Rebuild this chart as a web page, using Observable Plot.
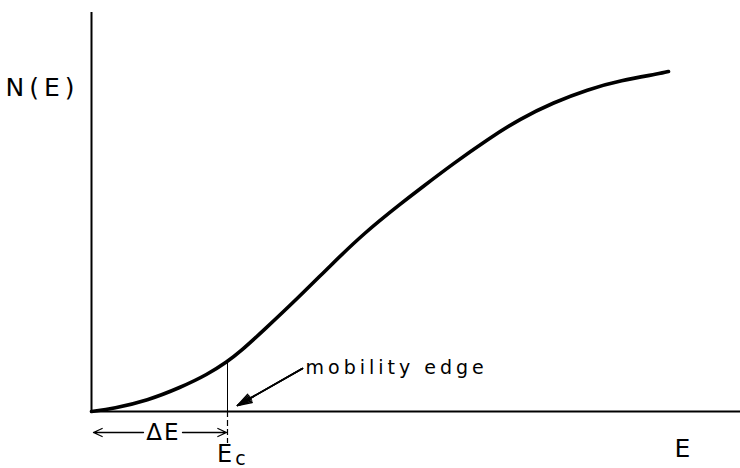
<!DOCTYPE html>
<html>
<head>
<meta charset="utf-8">
<script src="https://cdn.jsdelivr.net/npm/d3@7"></script>
<script src="https://cdn.jsdelivr.net/npm/@observablehq/plot@0.6"></script>
<style>
  html, body { margin: 0; padding: 0; background: #fff; }
  #chart svg { display: block; }
  .spaced-wide text { letter-spacing: 5px; }
  .spaced-mid text { letter-spacing: 4px; }
  .spaced-small text { letter-spacing: 2px; }
</style>
</head>
<body>
<div id="chart"></div>
<script>
// Energy (arbitrary units) and density of states N(E)
const energy = [0, 22, 56, 89, 116, 136, 149, 172, 206, 239, 272, 312, 329, 362, 396, 429, 462, 496, 529, 569, 577];
const density = [0, 3, 11, 24, 37, 50, 60, 81, 113, 146, 178, 210, 223, 248, 272, 293, 309, 322, 331, 338, 340];
const mobilityEdge = 136;       // E_c
const axisLabels = ["N(E)", "E"];
const edgeLabel = "mobility edge";
const deltaLabel = "ΔE";

const curve = energy.map((e, i) => ({E: e, N: density[i]}));
const Nc = density[energy.indexOf(mobilityEdge)];

const font = "DejaVu Sans, sans-serif";
const headAngles = [12, 24, 36];

const chart = Plot.plot({
  width: 740,
  height: 468,
  marginLeft: 91,
  marginRight: 0,
  marginTop: 12,
  marginBottom: 57,
  style: {background: "#fff", fontFamily: font},
  x: {domain: [0, 649], axis: null},
  y: {domain: [0, 399], axis: null},
  marks: [
    Plot.ruleX([0], {stroke: "#000", strokeWidth: 2}),
    Plot.ruleY([0], {stroke: "#000", strokeWidth: 2}),
    // vertical line at E_c: thin solid above axis, dashed below
    Plot.ruleX([mobilityEdge], {y1: 0, y2: Nc, stroke: "#000", strokeWidth: 1}),
    Plot.ruleX([mobilityEdge], {y1: 0, y2: -32, stroke: "#000", strokeWidth: 1.2, strokeDasharray: "6,3"}),
    Plot.line(curve, {x: "E", y: "N", curve: "basis", stroke: "#000", strokeWidth: 3.6}),
    // ΔE double arrow
    Plot.arrow([{x1: 52, x2: 2}, {x1: 91, x2: 135}], {
      x1: "x1", x2: "x2", y1: -21, y2: -21, stroke: "#000", strokeWidth: 1.3, headLength: 11, headAngle: 50
    }),
    Plot.text([deltaLabel], {x: 72, y: -21, text: d => d, fontSize: 23, fill: "#000", fontFamily: font, className: "spaced-small"}),
    // mobility edge pointer (fan of heads gives a filled look)
    ...headAngles.map(a => Plot.arrow([{x1: 211, y1: 43, x2: 146, y2: 6}], {
      x1: "x1", y1: "y1", x2: "x2", y2: "y2", stroke: "#000", strokeWidth: 1.6, headLength: 14, headAngle: a
    })),
    Plot.text([edgeLabel], {x: 214, y: 44, text: d => d, textAnchor: "start", fontSize: 19, fill: "#000", fontFamily: font, className: "spaced-mid"}),
    // axis labels
    Plot.text([axisLabels[0]], {x: -86, y: 324, text: d => d, textAnchor: "start", fontSize: 25, fill: "#000", fontFamily: font, className: "spaced-wide"}),
    Plot.text([axisLabels[1]], {x: 591, y: -37, text: d => d, fontSize: 25, fill: "#000", fontFamily: font}),
    Plot.text(["E"], {x: mobilityEdge - 3, y: -43, text: d => d, fontSize: 24, fill: "#000", fontFamily: font}),
    Plot.text(["c"], {x: mobilityEdge + 13, y: -47, text: d => d, fontSize: 19, fill: "#000", fontFamily: font})
  ]
});
document.getElementById("chart").appendChild(chart);
</script>
</body>
</html>
